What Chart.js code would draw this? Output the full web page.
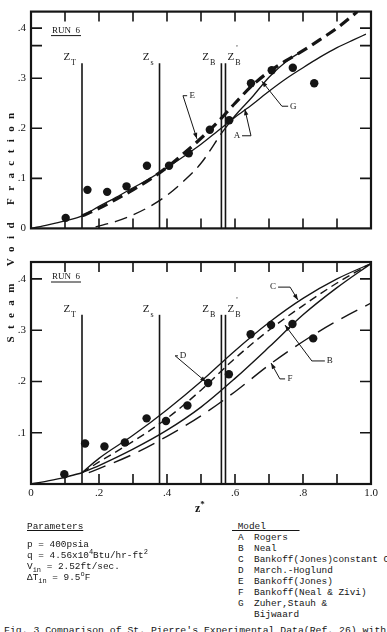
<!DOCTYPE html>
<html>
<head>
<meta charset="utf-8">
<script src="https://cdn.jsdelivr.net/npm/chart.js@4.4.1/dist/chart.umd.min.js"></script>
<style>
  body { margin:0; background:#fff; width:387px; height:632px; overflow:hidden; position:relative;
         font-family:"Liberation Mono", monospace; color:#151515; }
  canvas { position:absolute; left:0; }
  #c1 { top:0; }
  #c2 { top:240px; }
  .ylab { position:absolute; left:-130px; top:218px; width:280px; text-align:center;
          transform:rotate(-90deg); font:bold 11px "Liberation Serif", serif; letter-spacing:7.4px; white-space:nowrap; }
  .zlab { position:absolute; left:195px; top:499px; font:bold 12px "Liberation Serif", serif; }
  .zlab sup { font-size:9px; }
  .blk { position:absolute; font-size:9.4px; line-height:11px; white-space:nowrap; }
  .blk .hd { text-decoration:underline; margin-bottom:7px; }
  .blk sup, .blk sub { font-size:7px; line-height:0; }
  .mrow b { display:inline-block; width:22px; font-weight:normal; padding-left:6px; box-sizing:border-box; }
  .cap { position:absolute; left:4px; top:625px; font-size:9.8px; white-space:nowrap; }
</style>
</head>
<body>
<canvas id="c1" width="387" height="240"></canvas>
<canvas id="c2" width="387" height="280"></canvas>
<div class="ylab">Steam Void Fraction</div>
<div class="zlab">z<sup>*</sup></div>

<div class="blk" style="left:27px;top:521px">
  <div class="hd">Parameters</div>
  <div>p = 400psia</div>
  <div>q = 4.56x10<sup>4</sup>Btu/hr-ft<sup>2</sup></div>
  <div>V<sub>in</sub> = 2.52ft/sec.</div>
  <div>&Delta;T<sub>in</sub> = 9.5<sup>o</sup>F</div>
</div>

<div class="blk" style="left:232px;top:521px">
  <div class="hd" style="margin-bottom:0">&nbsp;Model&nbsp;&nbsp;&nbsp;&nbsp;&nbsp;&nbsp;</div>
  <div class="mrow"><b>A</b>Rogers</div>
  <div class="mrow"><b>B</b>Neal</div>
  <div class="mrow"><b>C</b>Bankoff(Jones)constant C</div>
  <div class="mrow"><b>D</b>March.-Hoglund</div>
  <div class="mrow"><b>E</b>Bankoff(Jones)</div>
  <div class="mrow"><b>F</b>Bankoff(Neal &amp; Zivi)</div>
  <div class="mrow"><b>G</b>Zuher,Stauh &amp;</div>
  <div class="mrow"><b></b>Bijwaard</div>
</div>

<div class="cap">Fig. 3  Comparison of St. Pierre's Experimental Data(Ref. 26) with</div>

<script>
// ── axis values ──────────────────────────
const yMax       = 0.433;
const yTickTop   = [0, 0.1, 0.2, 0.3, 0.4];
const yTickBot   = [0.1, 0.2, 0.3, 0.4];
const xTickVals  = [0, 0.2, 0.4, 0.6, 0.8, 1.0];
const xMarks     = [0.1, 0.2, 0.3, 0.4, 0.5, 0.6, 0.7, 0.8, 0.9];
const yMarksTop  = [0.1, 0.2, 0.3, 0.365, 0.4];
const yMarksBot  = [0.1, 0.2, 0.3, 0.4];

// ── locations Z_T, Z_s, Z_B, Z_B' ────────
const zX    = [0.15, 0.378, 0.56, 0.572];
const zTopY = 0.33;

// ── measured data (same in both panels) ──
const topDotsX = [0.102, 0.166, 0.224, 0.281, 0.341, 0.406, 0.464, 0.526, 0.583, 0.647, 0.708, 0.770, 0.833];
const topDotsY = [0.021, 0.077, 0.073, 0.084, 0.125, 0.125, 0.150, 0.197, 0.216, 0.290, 0.316, 0.321, 0.290];
const botDotsX = [0.098, 0.159, 0.216, 0.276, 0.340, 0.397, 0.460, 0.521, 0.582, 0.646, 0.706, 0.769, 0.830];
const botDotsY = [0.019, 0.079, 0.073, 0.081, 0.128, 0.123, 0.153, 0.197, 0.214, 0.292, 0.310, 0.312, 0.284];

// ── top panel models ─────────────────────
const aX  = [0, 0.05, 0.10, 0.15, 0.20, 0.25, 0.30, 0.35, 0.40, 0.45, 0.50, 0.55, 0.60, 0.65, 0.70, 0.75, 0.80, 0.85, 0.90, 0.95, 0.985];
const aY  = [0, 0.007, 0.015, 0.025, 0.044, 0.062, 0.081, 0.100, 0.121, 0.144, 0.168, 0.195, 0.222, 0.247, 0.274, 0.299, 0.321, 0.342, 0.361, 0.377, 0.388];
const eX  = [0.15, 0.20, 0.25, 0.30, 0.35, 0.40, 0.45, 0.50, 0.55, 0.60, 0.65, 0.70, 0.75, 0.80, 0.85, 0.90, 0.96];
const eY  = [0.025, 0.040, 0.058, 0.077, 0.098, 0.122, 0.150, 0.180, 0.213, 0.250, 0.285, 0.313, 0.335, 0.355, 0.377, 0.400, 0.433];
const gdX = [0.19, 0.25, 0.30, 0.35, 0.40, 0.45, 0.50, 0.56];
const gdY = [0.003, 0.014, 0.027, 0.044, 0.066, 0.095, 0.130, 0.190];
const gsX = [0.56, 0.60, 0.65, 0.70, 0.75, 0.80];
const gsY = [0.190, 0.225, 0.262, 0.302, 0.333, 0.355];

// ── bottom panel models ──────────────────
const baseX = [0, 0.05, 0.10, 0.15];
const baseY = [0, 0.006, 0.013, 0.022];
const mX  = [0.15, 0.20, 0.30, 0.40, 0.50, 0.60, 0.70, 0.80, 0.90, 1.00];
const cY  = [0.022, 0.050, 0.095, 0.145, 0.200, 0.260, 0.315, 0.362, 0.400, 0.430];
const dY  = [0.022, 0.043, 0.083, 0.128, 0.183, 0.245, 0.300, 0.348, 0.392, 0.430];
const bY  = [0.022, 0.036, 0.068, 0.105, 0.150, 0.206, 0.267, 0.330, 0.383, 0.430];
const fX  = [0.17, 0.20, 0.30, 0.40, 0.50, 0.60, 0.70, 0.80, 0.90, 1.00];
const fY  = [0.022, 0.030, 0.058, 0.093, 0.133, 0.180, 0.232, 0.278, 0.318, 0.353];

// ── label leaders: [text, labelX, labelY, elbowX, elbowY, tipX, tipY] ─
const notesTop = [
  ['E', 0.474, 0.265, 0.447, 0.265, 0.488, 0.179],
  ['G', 0.771, 0.244, 0.738, 0.244, 0.679, 0.294],
  ['A', 0.606, 0.185, 0.647, 0.185, 0.629, 0.238],
];
const notesBot = [
  ['C', 0.712, 0.384, 0.762, 0.384, 0.785, 0.359],
  ['D', 0.447, 0.250, 0.424, 0.250, 0.515, 0.199],
  ['B', 0.879, 0.240, 0.826, 0.240, 0.747, 0.310],
  ['F', 0.762, 0.205, 0.732, 0.205, 0.706, 0.236],
];
const zNames = [['T', 'l'], ['s', 'l'], ['B', 'l'], ['B', 'r']];

const INK = '#151515';
const pts = (xs, ys) => xs.map((v, i) => ({ x: v, y: ys[i] }));

function line(xs, ys, w, dash) {
  return { data: pts(xs, ys), showLine: true, pointRadius: 0, borderColor: INK,
           borderWidth: w, borderDash: dash || [], cubicInterpolationMode: 'monotone', fill: false };
}
function dots(xs, ys) {
  return { data: pts(xs, ys), showLine: false, pointRadius: 4.2, backgroundColor: INK, borderWidth: 0 };
}
function zLines() {
  return zX.map(v => ({ data: [{ x: v, y: 0 }, { x: v, y: zTopY }], showLine: true, pointRadius: 0,
                        borderColor: INK, borderWidth: 1.6, tension: 0 }));
}

// ── frame, inner ticks, Z labels, RUN 6, leaders ─
const deco = {
  id: 'deco',
  afterDatasetsDraw(chart, args, o) {
    const { ctx, chartArea: a, scales: { x, y } } = chart;
    ctx.save();
    ctx.strokeStyle = INK; ctx.fillStyle = INK;
    ctx.lineWidth = 1.6;
    ctx.beginPath();
    xMarks.forEach(v => {
      const px = x.getPixelForValue(v);
      ctx.moveTo(px, a.bottom); ctx.lineTo(px, a.bottom - 10);
      ctx.moveTo(px, a.top);    ctx.lineTo(px, a.top + 10);
    });
    o.yMarks.forEach(v => {
      const py = y.getPixelForValue(v);
      ctx.moveTo(a.left, py);  ctx.lineTo(a.left + 11, py);
      ctx.moveTo(a.right, py); ctx.lineTo(a.right - 11, py);
    });
    ctx.stroke();
    ctx.lineWidth = 2.2;
    ctx.strokeRect(a.left, a.top, a.right - a.left, a.bottom - a.top);

    // Z labels
    const ty = y.getPixelForValue(zTopY);
    zX.forEach((v, i) => {
      const px = x.getPixelForValue(v);
      const [sub, side] = zNames[i];
      ctx.font = '11px "Liberation Serif", serif';
      const zw = ctx.measureText('Z').width;
      ctx.font = '8px "Liberation Serif", serif';
      const sw = ctx.measureText(sub).width;
      const x0 = side === 'l' ? px - 6 - sw - zw - 1 : px + 2;
      ctx.font = '11px "Liberation Serif", serif';
      ctx.fillText('Z', x0, ty - 3);
      ctx.font = '8px "Liberation Serif", serif';
      ctx.fillText(sub, x0 + zw + 1, ty + 2);
      if (side === 'r') ctx.fillText("'", x0 + zw + 2, ty - 12);
    });

    // RUN 6
    ctx.font = '9px "Liberation Serif", serif';
    ctx.fillText('RUN  6', a.left + 21, a.top + o.runY);
    ctx.lineWidth = 1;
    ctx.beginPath();
    ctx.moveTo(a.left + 20, a.top + o.runY + 3); ctx.lineTo(a.left + 50, a.top + o.runY + 3);
    ctx.stroke();

    // leaders with arrowheads
    ctx.lineWidth = 1;
    ctx.font = '9px "Liberation Serif", serif';
    ctx.textAlign = 'center'; ctx.textBaseline = 'middle';
    o.notes.forEach(([t, lx, ly, ex, ey, tx, tyy]) => {
      const Lx = x.getPixelForValue(lx), Ly = y.getPixelForValue(ly);
      const Ex = x.getPixelForValue(ex), Ey = y.getPixelForValue(ey);
      const Tx = x.getPixelForValue(tx), Ty = y.getPixelForValue(tyy);
      ctx.fillText(t, Lx, Ly);
      const sx = Lx + (Ex > Lx ? 5 : -5);
      ctx.beginPath();
      ctx.moveTo(sx, Ly); ctx.lineTo(Ex, Ey); ctx.lineTo(Tx, Ty);
      ctx.stroke();
      const ang = Math.atan2(Ty - Ey, Tx - Ex);
      ctx.beginPath();
      ctx.moveTo(Tx, Ty);
      ctx.lineTo(Tx - 6 * Math.cos(ang) + 2.2 * Math.sin(ang), Ty - 6 * Math.sin(ang) - 2.2 * Math.cos(ang));
      ctx.lineTo(Tx - 6 * Math.cos(ang) - 2.2 * Math.sin(ang), Ty - 6 * Math.sin(ang) + 2.2 * Math.cos(ang));
      ctx.closePath(); ctx.fill();
    });
    ctx.restore();
  }
};

const tickFmt = v => v === 0 ? '0' : (v >= 1 ? v.toFixed(1) : '.' + Math.round(v * 10));
const tickFont = { family: 'Liberation Serif', size: 11 };

function yScale(vals) {
  return {
    min: 0, max: yMax,
    grid: { display: false, drawTicks: false }, border: { display: false },
    ticks: { padding: 5, font: tickFont, color: INK, callback: tickFmt },
    afterBuildTicks: s => { s.ticks = vals.map(v => ({ value: v })); },
    afterFit: s => { s.width = 31; },
  };
}

function baseOpts(extra) {
  return {
    responsive: false, animation: false,
    layout: extra.layout,
    plugins: { legend: { display: false }, tooltip: { enabled: false }, deco: extra.deco },
    scales: extra.scales,
  };
}

// ── top panel ────────────────────────────
new Chart(document.getElementById('c1'), {
  type: 'scatter',
  data: { datasets: [
    ...zLines(),
    line(aX, aY, 1.3),
    line(eX, eY, 3.2, [11, 6]),
    line(gdX, gdY, 1.4, [13, 7]),
    line(gsX, gsY, 1.3),
    dots(topDotsX, topDotsY),
  ] },
  options: baseOpts({
    layout: { padding: { top: 7, right: 16, bottom: 11, left: 0 }, autoPadding: false },
    deco: { yMarks: yMarksTop, notes: notesTop, runY: 21 },
    scales: { x: { type: 'linear', min: 0, max: 1, display: false }, y: yScale(yTickTop) },
  }),
  plugins: [deco],
});

// ── bottom panel ─────────────────────────
new Chart(document.getElementById('c2'), {
  type: 'scatter',
  data: { datasets: [
    ...zLines(),
    line(baseX, baseY, 1.4),
    line(mX, cY, 1.3),
    line(mX, dY, 1.4, [8, 5]),
    line(mX, bY, 1.4),
    line(fX, fY, 1.4, [18, 9]),
    dots(botDotsX, botDotsY),
  ] },
  options: baseOpts({
    layout: { padding: { top: 22, right: 16, bottom: 0, left: 0 }, autoPadding: false },
    deco: { yMarks: yMarksBot, notes: notesBot, runY: 17 },
    scales: {
      x: {
        type: 'linear', min: 0, max: 1,
        grid: { display: false, drawTicks: false }, border: { display: false },
        ticks: { padding: 3, font: tickFont, color: INK, callback: tickFmt, maxRotation: 0 },
        afterBuildTicks: s => { s.ticks = xTickVals.map(v => ({ value: v })); },
        afterFit: s => { s.height = 36; },
      },
      y: yScale(yTickBot),
    },
  }),
  plugins: [deco],
});
</script>
</body>
</html>
